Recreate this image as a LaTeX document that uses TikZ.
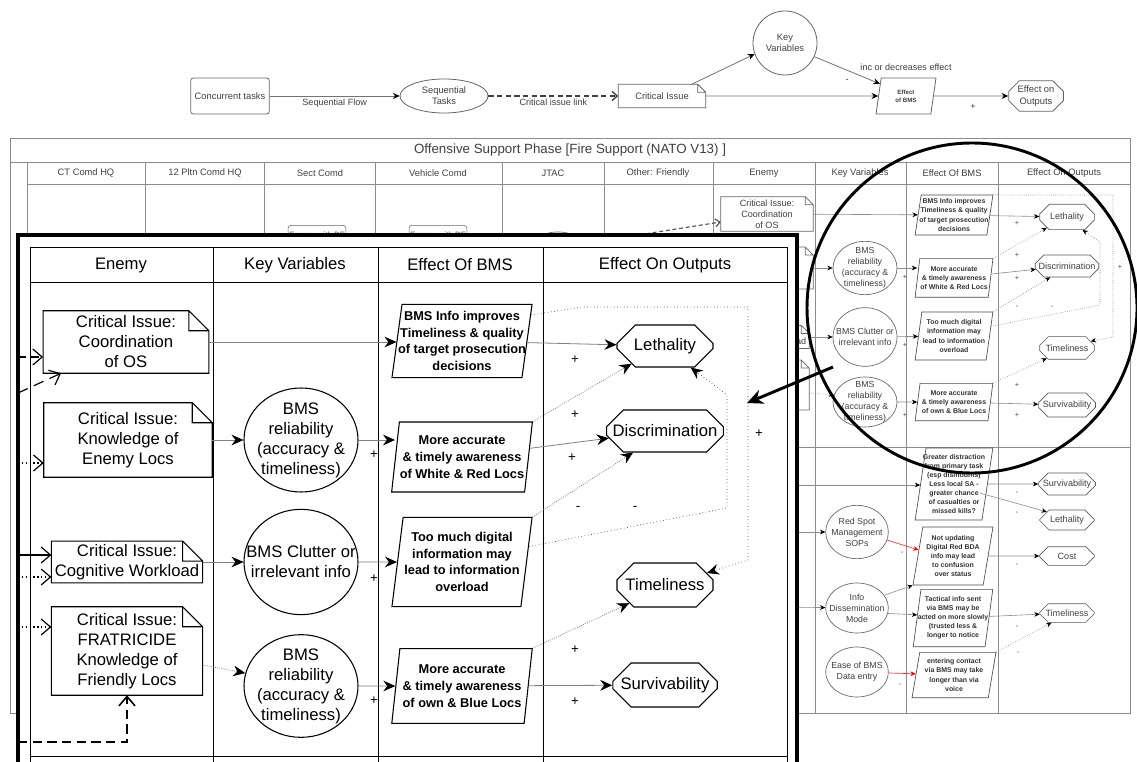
\documentclass[tikz,border=0pt]{standalone}
\usepackage{fontspec}
\setmainfont{Liberation Sans}
\usetikzlibrary{arrows.meta,calc,shapes.geometric,shapes.misc}
\newcommand{\fsz}[2]{\fontsize{#1}{#2}\selectfont}

\begin{document}
\begin{tikzpicture}[
    x=0.75pt, y=-0.75pt,
    % legend strip
    lgbox/.style={draw=black!60, line width=0.6pt, font=\fsz{7}{8.4}, text=black!75, align=center, inner sep=1pt},
    lgarr/.style={draw=black!55, line width=0.6pt, -{Stealth[length=5pt,width=4.5pt,color=black]}},
    lglink/.style={draw=black!75, line width=1pt, dash pattern=on 4pt off 2.5pt, -{Straight Barb[length=4pt,width=7pt]}},
    lgtext/.style={font=\fsz{6.8}{8}, text=black!75, inner sep=1pt},
    % swimlane chart behind
    bgline/.style={draw=black!45, line width=0.5pt},
    bghead/.style={font=\fsz{7}{8}, text=black!75},
    bgnote/.style={font=\fsz{6.8}{8.2}, text=black!75, align=center, inner sep=1pt},
    bgkv/.style={ellipse, draw=black!60, line width=0.5pt, font=\fsz{6.6}{8.2}, text=black!75, align=center, inner xsep=-7pt, inner ysep=-3pt},
    bgeff/.style={trapezium, trapezium left angle=80, trapezium right angle=100, trapezium stretches=true, draw=black!70, line width=0.5pt, font=\bfseries\fsz{5.2}{6.8}, text=black!80, align=center, inner xsep=-3pt, inner ysep=0pt},
    bgout/.style={chamfered rectangle, chamfered rectangle xsep=5pt, chamfered rectangle ysep=4pt, draw=black!65, line width=0.5pt, font=\fsz{6.8}{8}, text=black!75, inner sep=0pt},
    bgarr/.style={draw=black!45, line width=0.45pt, -{Stealth[length=4pt,width=3.5pt,color=black]}},
    bgdot/.style={bgarr, densely dotted},
    bgloop/.style={draw=black!45, line width=0.45pt, densely dotted},
    bglink/.style={draw=black!70, line width=0.8pt, dash pattern=on 3pt off 2pt, -{Straight Barb[length=3.5pt,width=6pt]}},
    redarr/.style={draw=red!80, line width=0.5pt, -{Stealth[length=4pt,width=3.5pt,color=red]}},
    bgsign/.style={font=\fsz{5.5}{6}, text=black!70, inner sep=0pt},
    % zoomed inset
    ithin/.style={draw=black, line width=0.6pt},
    ihead/.style={font=\fsz{12.5}{15}},
    inote/.style={font=\fsz{12.5}{15}, align=center, inner sep=1pt},
    ikv/.style={ellipse, draw=black, line width=0.8pt, font=\fsz{12.5}{15}, align=center, inner xsep=-13pt, inner ysep=-6pt},
    ieff/.style={trapezium, trapezium left angle=81, trapezium right angle=99, trapezium stretches=true, draw=black, line width=0.8pt, font=\bfseries\fsz{9.6}{12.5}, align=center, inner xsep=-6pt, inner ysep=0pt},
    iout/.style={chamfered rectangle, chamfered rectangle xsep=10pt, chamfered rectangle ysep=8pt, draw=black, line width=0.8pt, font=\fsz{12.5}{15}, inner sep=0pt},
    iarr/.style={draw=black!50, line width=0.6pt, -{Stealth[length=9pt,width=8pt,inset=3pt,color=black]}},
    idot/.style={iarr, densely dotted},
    iloop/.style={draw=black!75, line width=0.5pt, dotted},
    istub/.style={draw=black, line width=0.9pt, -{Straight Barb[length=7pt,width=12pt]}},
    isign/.style={font=\fsz{10}{10}, inner sep=0pt},
  ]
  \useasboundingbox (0,0) rectangle (1137,762);
  \clip (0,0) rectangle (1137,762);
  \fill[white] (0,0) rectangle (1137,762);

  % ---- legend ----
  \node[lgbox, rounded corners=2pt, minimum width=59pt, minimum height=27pt] (lgconc) at (230,96) {Concurrent tasks};
  \node[lgbox, ellipse, inner sep=0pt, minimum width=66pt, minimum height=25.5pt] (lgseq) at (444,96) {Sequential\\Tasks};
  \node[lgbox, draw=none, minimum width=65pt, minimum height=17pt] (lgci) at (662,96) {Critical Issue};
  \node[lgbox, circle, inner sep=0pt, minimum size=48pt] (lgkv) at (785,43) {Key\\Variables};
  \node[lgbox, trapezium, trapezium left angle=80, trapezium right angle=100, trapezium stretches=true, inner sep=0pt, minimum width=45pt, minimum height=27pt, font=\bfseries\fsz{4.6}{6}] (lgeb) at (906,96) {Effect\\of BMS};
  \node[lgbox, chamfered rectangle, chamfered rectangle xsep=4pt, chamfered rectangle ysep=4pt, inner sep=0pt, minimum width=41pt, minimum height=22pt] (lgout) at (1036,96) {Effect on\\Outputs};

  \draw[lgarr] (lgconc) -- (lgseq) node[lgtext, midway, below=1pt] (lgflow) {Sequential Flow};
  \draw[lglink] (lgseq) -- (lgci) node[lgtext, midway, below=1pt] (lglinktxt) {Critical issue link};
  \draw[lgarr] ($(lgci.north east)+(-14,0)$) -- (lgkv.200);
  \draw[lgarr] (lgkv.-25) -- (lgeb.155);
  \draw[lgarr] (lgci) -- (lgeb);
  \draw[lgarr] (lgeb) -- (lgout);
  \node[lgtext] (lgincdec) at (906,67) {inc or decreases effect};
  \node[lgtext] (lgminus) at (847,81) {-};
  \node[lgtext] (lgplus) at (973,107) {+};

  % ---- swimlane chart ----
  \draw[bgline] (10,138) rectangle (1130,713);
  \node[font=\fsz{10}{12}, text=black!75] (bgtitle) at (570,150) {Offensive Support Phase [Fire Support (NATO V13) ]};
  \draw[bgline] (10,162) -- (1130,162) (27,184) -- (1130,184) (27,447) -- (1130,447);
  \foreach \x in {27,145,264,375,502,604,713,815,906,998}
    \draw[bgline] (\x,162) -- (\x,713);
  \foreach \x/\t in {86/CT Comd HQ, 205/12 Pltn Comd HQ, 320/Sect Comd, 438/Vehicle Comd, 553/JTAC,
      658/Other: Friendly, 764/Enemy, 860/Key Variables, 952/Effect Of BMS, 1064/Effect On Outputs}
    \node[bghead] (hd\x) at (\x,173) {\t};

  \node[bgnote, draw=black!60, rounded corners=2pt, minimum width=42pt, minimum height=16pt, font=\fsz{5.8}{7}] (bgeng1) at (317,236) {Engage with DF};
  \node[bgnote, draw=black!60, rounded corners=2pt, minimum width=42pt, minimum height=16pt, font=\fsz{5.8}{7}] (bgeng2) at (438,236) {Engage with DF};
  \node[bgkv, minimum width=45pt, minimum height=30pt] (bgjtac) at (558,252) {};

  \node[bgnote, minimum width=69pt, minimum height=25.5pt] (bci1) at (767,214) {Critical Issue:\\Coordination\\of OS};
  \node[bgnote, minimum width=69pt, minimum height=31pt] (bci2) at (767,268) {Critical Issue:\\Knowledge of\\Enemy Locs};
  \node[bgnote, minimum width=63pt, minimum height=17pt] (bci3) at (767,337) {Critical Issue:\\Cognitive Workload};
  \node[bgnote, minimum width=63pt, minimum height=37pt] (bci4) at (767,385) {Critical Issue:\\FRATRICIDE\\Knowledge of\\Friendly Locs};

  \node[bgkv, minimum width=48pt, minimum height=40pt] (bkv1) at (865,268) {BMS\\reliability\\(accuracy \&\\timeliness)};
  \node[bgkv, minimum width=48pt, minimum height=44pt] (bkv2) at (865,337) {BMS Clutter or\\irrelevant info};
  \node[bgkv, minimum width=48pt, minimum height=37.5pt] (bkv3) at (865,402) {BMS\\reliability\\(accuracy \&\\timeliness)};
  \node[bgkv, minimum width=47pt, minimum height=40pt] (bkv4) at (857,532) {Red Spot\\Management\\SOPs};
  \node[bgkv, minimum width=47pt, minimum height=37.5pt] (bkv5) at (857,608) {Info\\Dissemination\\Mode};
  \node[bgkv, minimum width=47pt, minimum height=37.5pt] (bkv6) at (857,672) {Ease of BMS\\Data entry};

  \node[bgeff, minimum width=58.5pt, minimum height=30pt] (beb1) at (954,215) {BMS Info improves\\Timeliness \& quality\\of target prosecution\\decisions};
  \node[bgeff, minimum width=58.5pt, minimum height=29pt] (beb2) at (954,278) {More accurate\\\& timely awareness\\of White \& Red Locs};
  \node[bgeff, minimum width=58.5pt, minimum height=36pt] (beb3) at (954,336) {Too much digital\\information may\\lead to information\\overload};
  \node[bgeff, minimum width=58.5pt, minimum height=28pt] (beb4) at (954,402) {More accurate\\\& timely awareness\\of own \& Blue Locs};
  \node[bgeff, minimum width=58.5pt, minimum height=54pt] (beb5) at (954,484) {Greater distraction\\from primary task\\(esp dismounts)\\Less local SA -\\greater chance\\of casualties or\\missed kills?};
  \node[bgeff, minimum width=60pt, minimum height=43.5pt] (beb6) at (953,556) {Not updating\\Digital Red BDA\\info may lead\\to confusion\\over status};
  \node[bgeff, minimum width=60pt, minimum height=43pt] (beb7) at (953,618) {Tactical info sent\\via BMS may be\\acted on more slowly\\(trusted less \&\\longer to notice};
  \node[bgeff, minimum width=63pt, minimum height=34pt] (beb8) at (954,675) {entering contact\\via BMS may take\\longer than via\\voice};

  \node[bgout, minimum width=41pt, minimum height=19pt] (bout1) at (1067,217) {Lethality};
  \node[bgout, minimum width=46pt, minimum height=16.5pt] (bout2) at (1067,266) {Discrimination};
  \node[bgout, minimum width=41pt, minimum height=17pt] (bout3) at (1067,348) {Timeliness};
  \node[bgout, minimum width=41pt, minimum height=18pt] (bout4) at (1067,405) {Survivability};
  \node[bgout, minimum width=41pt, minimum height=16.5pt] (bout5) at (1067,484) {Survivability};
  \node[bgout, minimum width=41pt, minimum height=15pt] (bout6) at (1067,520) {Lethality};
  \node[bgout, minimum width=41pt, minimum height=14pt] (bout7) at (1067,556) {Cost};
  \node[bgout, minimum width=41pt, minimum height=14pt] (bout8) at (1067,613) {Timeliness};

  \foreach \n in {lgci,bci1,bci2,bci3,bci4}
    \draw[draw=black!60, line width=0.55pt] (\n.south west) -- (\n.north west) -- ([xshift=-6pt]\n.north east)
      -- ([yshift=-6pt]\n.north east) -- (\n.south east) -- cycle
      ([xshift=-6pt]\n.north east) |- ([yshift=-6pt]\n.north east);

  \coordinate (bglinkin) at (600,241);
  \draw[bglink] (bglinkin) -- ($(bci1.west)+(0,8)$);
  \draw[bgarr] (bci1) -- (beb1);
  \draw[bgarr] (bci2) -- (bkv1);
  \draw[bgarr] (bci3) -- (bkv2);
  \draw[bgdot] ($(bci4.east)+(0,8)$) -- (bkv3.167);
  \draw[bgarr] (bkv1.east) -- (bkv1.east -| beb2.west);
  \draw[bgarr] (bkv2) -- (beb3);
  \draw[bgarr] (bkv3) -- (beb4);
  \draw[bgarr] (beb1) -- (bout1);
  \draw[bgdot] (beb2.top right corner) -- (bout1.208);
  \draw[bgarr] (beb2) -- (bout2);
  \draw[bgdot] (beb3.top right corner) -- (bout2.214);
  \draw[bgdot] (beb4.top right corner) -- (bout3.207);
  \draw[bgarr] (beb4) -- (bout4);
  \coordinate (bga1) at (1007,195);
  \coordinate (bga2) at (1113,195);
  \coordinate (bga3) at (1113,337);
  \draw[bgloop, -{Stealth[length=4pt,width=3.5pt,color=black]}] (beb1.top right corner) -- (bga1) -- (bga2) -- (bga3) -- (bout3.16);
  \coordinate (bgb1) at (1100,305);
  \coordinate (bgb2) at (1100,242);
  \draw[bgloop, -{Stealth[length=4pt,width=3.5pt,color=black]}] ($(beb3.top right corner)!0.3!(beb3.bottom right corner)$) -- (bgb1) -- (bgb2) -- (bout1.-40);

  \coordinate (bgin5) at (780,485);
  \coordinate (bgin6) at (780,532);
  \coordinate (bgin7) at (780,607);
  \draw[bgarr] (bgin5) -- (bgin5 -| beb5.west);
  \draw[bgarr] (bgin6) -- (bkv4);
  \draw[bgarr] (bgin7) -- (bkv5);
  \draw[bgarr] (beb5) -- (bout5);
  \draw[bgarr] ($(beb5.east)+(-8,9)$) -- (bout6.158);
  \draw[redarr] (bkv4.-15) -- (beb6.170);
  \draw[bgarr] (beb6) -- (bout7);
  \draw[bgarr] (bkv5.25) -- (beb6.bottom left corner);
  \draw[bgarr] (bkv5.-10) -- (beb7.175);
  \draw[bgarr] (beb7) -- (bout8);
  \draw[redarr] (bkv6) -- (beb8);
  \draw[bgdot] (beb8.top right corner) -- (bout8.212);

  \foreach \x/\y/\s in {1017/223/+, 1017/255/+, 1017/278/+, 1120/267/+, 1017/307/-, 1052/307/-,
      1017/385/+, 1017/415/+, 905/277/+, 905/345/+, 905/415/+, 1017/493/-, 1017/513/-,
      902/553/-, 1017/565/-, 1017/627/-, 900/685/-, 1018/653/-}
    \node[bgsign] (bs\x-\y) at (\x,\y) {\s};

  % ---- zoomed inset ----
  \fill[white] (18,235) rectangle (797,770);
  \draw[ithin] (30,247) -- (787,247) (30,282) -- (787,282) (30,756) -- (787,756);
  \foreach \x in {30,213,378,543,787}
    \draw[ithin] (\x,247) -- (\x,770);
  \foreach \x/\t in {121/Enemy, 295/Key Variables, 460/Effect Of BMS, 665/Effect On Outputs}
    \node[ihead] (ih\x) at (\x,265) {\t};
  \draw[line width=2.3pt] (18,770) -- (18,235) -- (797,235) -- (797,770);

  \node[inote, minimum width=124pt, minimum height=46.5pt] (ci1) at (126,342) {Critical Issue:\\Coordination\\of OS};
  \node[inote, minimum width=126pt, minimum height=55.5pt] (ci2) at (128,440) {Critical Issue:\\Knowledge of\\Enemy Locs};
  \node[inote, minimum width=113pt, minimum height=31pt] (ci3) at (127,562) {Critical Issue:\\Cognitive Workload};
  \node[inote, minimum width=113pt, minimum height=66pt] (ci4) at (127,651) {Critical Issue:\\FRATRICIDE\\Knowledge of\\Friendly Locs};
  \foreach \n in {ci1,ci2,ci3,ci4}
    \draw[draw=black, line width=0.8pt] (\n.south west) -- (\n.north west) -- ([xshift=-15pt]\n.north east)
      -- ([yshift=-15pt]\n.north east) -- (\n.south east) -- cycle
      ([xshift=-15pt]\n.north east) |- ([yshift=-15pt]\n.north east);

  \node[ikv, minimum width=85.5pt, minimum height=78pt] (kv1) at (301,440) {BMS\\reliability\\(accuracy \&\\timeliness)};
  \node[ikv, minimum width=85.5pt, minimum height=79pt] (kv2) at (301,562) {BMS Clutter or\\irrelevant info};
  \node[ikv, minimum width=85.5pt, minimum height=77pt] (kv3) at (301,686) {BMS\\reliability\\(accuracy \&\\timeliness)};

  \node[ieff, minimum width=106pt, minimum height=55pt] (eb1) at (462,341) {BMS Info improves\\Timeliness \& quality\\of target prosecution\\decisions};
  \node[ieff, minimum width=106pt, minimum height=52.5pt] (eb2) at (462,457) {More accurate\\\& timely awareness\\of White \& Red Locs};
  \node[ieff, minimum width=106pt, minimum height=67pt] (eb3) at (462,562) {Too much digital\\information may\\lead to information\\overload};
  \node[ieff, minimum width=106pt, minimum height=56pt] (eb4) at (462,686) {More accurate\\\& timely awareness\\of own \& Blue Locs};

  \node[iout, minimum width=72pt, minimum height=31.5pt] (out1) at (665,346) {Lethality};
  \node[iout, minimum width=79pt, minimum height=31.5pt] (out2) at (665,431) {Discrimination};
  \node[iout, minimum width=72pt, minimum height=33pt] (out3) at (665,585) {Timeliness};
  \node[iout, minimum width=72pt, minimum height=33pt] (out4) at (665,685) {Survivability};

  \draw[iarr] (ci1.east) -- (ci1.east -| eb1.west);
  \draw[iarr] (ci2) -- (kv1);
  \draw[iarr] (kv1.east) -- (kv1.east -| eb2.west);
  \draw[iarr] (ci3) -- (kv2);
  \draw[iarr] (kv2) -- (eb3);
  \draw[idot] ($(ci4.east)+(0,14)$) -- (kv3.167);
  \draw[iarr] (kv3) -- (eb4);
  \draw[iarr] (eb1) -- (out1);
  \draw[idot] (eb2.top right corner) -- (out1.208);
  \draw[iarr] (eb2) -- (out2);
  \draw[idot] (eb3.top right corner) -- (out2.214);
  \draw[idot] (eb4.top right corner) -- (out3.207);
  \draw[iarr] (eb4) -- (out4);

  \coordinate (la1) at (582,307);
  \coordinate (la2) at (748,307);
  \coordinate (la3) at (748,560);
  \draw[iloop, -{Stealth[length=9pt,width=8pt,inset=3pt,color=black]}] ($(eb1.top right corner)!0.15!(eb1.bottom right corner)$) -- (la1) -- (la2) -- (la3) -- (out3.16);
  \coordinate (lb1) at (727,508);
  \coordinate (lb2) at (727,395);
  \draw[iloop, -{Stealth[length=9pt,width=8pt,inset=3pt,color=black]}] ($(eb3.top right corner)!0.33!(eb3.bottom right corner)$) -- (lb1) -- (lb2) -- (out1.-40);

  \foreach \x/\y/\s in {575/360/+, 575/415/+, 572/458/+, 759/434/+, 578/508/-, 635/508/-,
      575/650/+, 575/702/+, 374/455/+, 374/579/+, 374/701/+}
    \node[isign] (is\x-\y) at (\x,\y) {\s};

  % feeds from the lanes on the left
  \coordinate (st1) at (18,357);
  \coordinate (st2) at (18,393);
  \coordinate (st3) at (18,463);
  \coordinate (st4) at (18,555);
  \coordinate (st5) at (18,577);
  \coordinate (st6) at (18,627);
  \coordinate (st7) at (18,742);
  \draw[istub, dash pattern=on 6pt off 4pt] (st1) -- (st1 -| ci1.west);
  \draw[istub, dash pattern=on 8pt off 5pt] (st2) -- ($(ci1.south west)+(18,0)$);
  \draw[istub, dotted] (st3) -- (st3 -| ci2.west);
  \draw[istub] (st4) -- (st4 -| ci3.west);
  \draw[istub, dotted] (st5) -- (st5 -| ci3.west);
  \draw[istub, dotted] (st6) -- (st6 -| ci4.west);
  \draw[istub, line width=1.2pt, dash pattern=on 7pt off 4pt] (st7) -| (ci4.south);

  % magnifier
  \node[draw, circle, line width=2.2pt, minimum size=247.5pt, inner sep=0pt] (ring) at (972,308) {};
  \coordinate (zs) at (833,367);
  \coordinate (zt) at (747,403);
  \draw[line width=2.2pt, -{Stealth[length=12pt,width=11pt]}] (zs) -- (zt);
\end{tikzpicture}
\end{document}
